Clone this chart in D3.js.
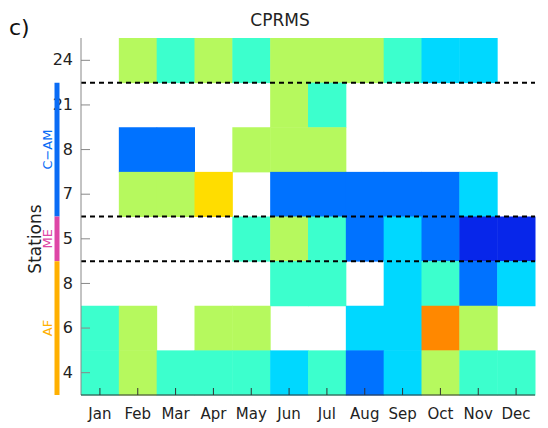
<!DOCTYPE html>
<html>
<head>
<meta charset="utf-8">
<script src="https://cdn.jsdelivr.net/npm/d3@7"></script>
<style>
  html, body { margin: 0; padding: 0; background: #fff; }
  svg { display: block; font-family: "DejaVu Sans", sans-serif; }
</style>
</head>
<body>
<svg id="chart" width="548" height="428"></svg>
<script>
// months along x
const months = ["Jan","Feb","Mar","Apr","May","Jun","Jul","Aug","Sep","Oct","Nov","Dec"];
// station rows, top to bottom, with their tick labels
const rowLabels = ["24","21","8","7","5","8","6","4"];
// colour class per cell (0 dark blue .. 6 orange), null = empty
const levels = [
  [null,4,3,4,3,4,4,4,3,2,2,null],          // 24
  [null,null,null,null,null,4,3,null,null,null,null,null], // 21
  [null,1,1,null,4,4,4,null,null,null,null,null],          // 8
  [null,4,4,5,null,1,1,1,1,1,2,null],        // 7
  [null,null,null,null,3,4,3,1,2,1,0,0],     // 5
  [null,null,null,null,null,3,3,null,2,3,1,2], // 8
  [3,4,null,4,4,null,null,2,2,6,4,null],     // 6
  [3,4,3,3,3,2,3,1,2,4,3,3]                  // 4
];
const levelColors = ["#0726ea","#0072ff","#00d8ff","#3cffcd","#b6f95e","#ffdd00","#ff8800"];
// regions: name, first row, last row, colour
const groups = [
  {name: "C\u2212AM", from: 1, to: 3, color: "#0a6cf5"},
  {name: "ME", from: 4, to: 4, color: "#de46a6"},
  {name: "AF", from: 5, to: 7, color: "#ffb000"}
];
const separators = [1, 4, 5]; // dashed line above these rows

const margin = {top: 38, right: 13, bottom: 33, left: 81};
const W = 548, H = 428;
const iw = W - margin.left - margin.right, ih = H - margin.top - margin.bottom;

const svg = d3.select("#chart");
const g = svg.append("g").attr("transform", `translate(${margin.left},${margin.top})`);

const x = d3.scaleBand().domain(months).range([0, iw]).padding(0);
const y = d3.scaleBand().domain(d3.range(rowLabels.length)).range([0, ih]).padding(0);
const color = d3.scaleOrdinal().domain(d3.range(levelColors.length)).range(levelColors);

const cells = [];
levels.forEach((row, r) => row.forEach((v, c) => { if (v !== null) cells.push({r, m: months[c], v}); }));

g.selectAll("rect.cell")
  .data(cells)
  .join("rect")
  .attr("class", "cell")
  .attr("x", d => x(d.m))
  .attr("y", d => y(d.r))
  .attr("width", x.bandwidth() + 0.5)
  .attr("height", y.bandwidth() + 0.5)
  .attr("fill", d => color(d.v));

// dashed separators
g.selectAll("line.sep")
  .data(separators)
  .join("line")
  .attr("class", "sep")
  .attr("x1", 0).attr("x2", iw)
  .attr("y1", d => y(d)).attr("y2", d => y(d))
  .attr("stroke", "#000")
  .attr("stroke-width", 2)
  .attr("stroke-dasharray", "5,4");

// axes with inward ticks
const yAxis = g.append("g")
  .call(d3.axisLeft(y).tickFormat(i => rowLabels[i]).tickSize(-9).tickPadding(17));
yAxis.select(".domain").attr("stroke", "#888").attr("d", `M0,0V${ih}`);
yAxis.selectAll(".tick line").attr("stroke", "#888");
yAxis.selectAll(".tick text").attr("font-size", 16).attr("fill", "#222")
  .attr("font-family", "DejaVu Sans, sans-serif").attr("dx", 9);

const xAxis = g.append("g").attr("transform", `translate(0,${ih})`)
  .call(d3.axisBottom(x).tickSize(-7).tickPadding(13));
xAxis.select(".domain").attr("stroke", "#333").attr("d", `M0,0H${iw}`);
xAxis.selectAll(".tick line").attr("stroke", "#333");
xAxis.selectAll(".tick text").attr("font-size", 15).attr("fill", "#222")
  .attr("font-family", "DejaVu Sans, sans-serif").attr("dy", "0.71em");

// region bars and labels
const gx = 57 - margin.left;
g.selectAll("line.grp")
  .data(groups)
  .join("line")
  .attr("class", "grp")
  .attr("x1", gx).attr("x2", gx)
  .attr("y1", d => y(d.from))
  .attr("y2", d => y(d.to) + y.bandwidth())
  .attr("stroke", d => d.color)
  .attr("stroke-width", 5);

g.selectAll("text.grp")
  .data(groups)
  .join("text")
  .attr("class", "grp")
  .attr("transform", d => `translate(${gx - 5},${(y(d.from) + y(d.to) + y.bandwidth()) / 2}) rotate(-90)`)
  .attr("text-anchor", "middle")
  .attr("font-size", 13)
  .attr("fill", d => d.color)
  .text(d => d.name);

svg.append("text")
  .attr("transform", "translate(41,239) rotate(-90)")
  .attr("text-anchor", "middle")
  .attr("font-size", 17)
  .attr("fill", "#222")
  .text("Stations");

svg.append("text")
  .attr("x", 280).attr("y", 26)
  .attr("text-anchor", "middle")
  .attr("font-size", 17)
  .attr("fill", "#222")
  .text("CPRMS");

svg.append("text")
  .attr("x", 9).attr("y", 35)
  .attr("font-size", 22)
  .attr("fill", "#111")
  .text("c)");
</script>
</body>
</html>
